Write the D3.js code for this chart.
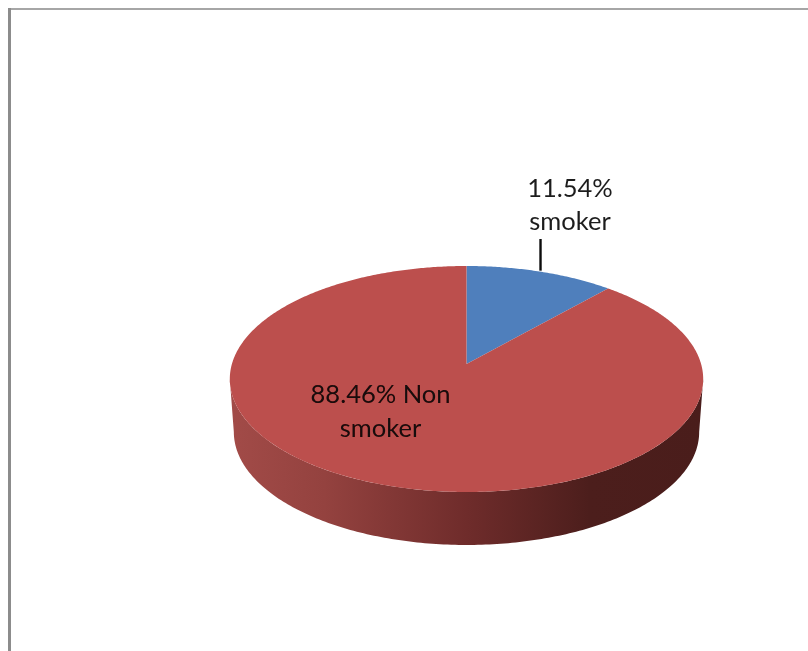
<!DOCTYPE html>
<html>
<head>
<meta charset="utf-8">
<script src="https://cdn.jsdelivr.net/npm/d3@7"></script>
<style>
html,body{margin:0;padding:0;background:#fff;overflow:hidden}
svg{display:block}
text{font-family:Lato,"Open Sans",sans-serif;font-size:25.5px;text-anchor:middle}
</style>
</head>
<body>
<svg id="c" width="808" height="651"></svg>
<script>
const categories = ["smoker", "Non smoker"];
const values = [11.54, 88.46];
const colors = ["#4f7fbc", "#bc4f4d"];
const wallGradientStops = [
  [0, "#a24b48"], [0.2, "#94423f"], [0.5, "#6f2c2b"], [0.76, "#4c1e1c"], [1, "#4a1d1b"]
];
const labelLines = [["11.54%", "smoker"], ["88.46% Non", "smoker"]];

const W = 808, H = 651;
const svg = d3.select("#c");

// frame
svg.append("rect").attr("x",0).attr("y",0).attr("width",W).attr("height",H).attr("fill","#fff");
svg.append("rect").attr("x",8).attr("y",8).attr("width",W-8).attr("height",2).attr("fill","#a6a6a6");
svg.append("rect").attr("x",8).attr("y",8).attr("width",3).attr("height",H-8).attr("fill","#8c8c8c");

// perspective projection of a unit disc onto the page
const cx = 466.5, apexY = 364, bx = 234.6, ay = 111, k = 0.1327, depth = 53, shrink = 0.983;
const project = (angle, r = 1, low = false) => {
  const u = r * Math.sin(angle), v = r * Math.cos(angle), d = 1 + k * v, s = low ? shrink : 1;
  return [cx + s * bx * u / d, apexY + (low ? depth : 0) - ay * v / d];
};
const line = d3.line();

const pie = d3.pie().sort(null).value(d => d);
const arcs = pie(values);

const defs = svg.append("defs");
const grad = defs.append("linearGradient").attr("id","wall")
  .attr("gradientUnits","userSpaceOnUse")
  .attr("x1",cx-237).attr("x2",cx+237).attr("y1",0).attr("y2",0);
grad.selectAll("stop").data(wallGradientStops).join("stop")
  .attr("offset",d=>d[0]).attr("stop-color",d=>d[1]);
defs.append("filter").attr("id","soft").append("feGaussianBlur").attr("stdDeviation",0.35);

// side wall, between the extreme left and right of the projected ellipse
const edge = Math.acos(-k);
const sideAngles = d3.range(edge, 2*Math.PI - edge + 1e-6, (2*Math.PI - 2*edge)/200);
const rimTop = sideAngles.map(a => project(a));
const rimLow = sideAngles.map(a => project(a,1,true)).reverse();
svg.append("path").attr("d", line(rimTop.concat(rimLow)) + "Z").attr("fill","url(#wall)");

// top face
const wedge = d => {
  const n = Math.max(2, Math.ceil((d.endAngle-d.startAngle)/0.01));
  const pts = d3.range(n+1).map(i => project(d.startAngle + (d.endAngle-d.startAngle)*i/n));
  return line([project(0,0)].concat(pts)) + "Z";
};
svg.selectAll("path.slice").data(arcs).join("path").attr("class","slice")
  .attr("d", wedge).attr("fill",(d,i)=>colors[i]);

// leader line for the small slice
const mid = (arcs[0].startAngle + arcs[0].endAngle)/2;
const tip = project(mid);
svg.append("line").attr("x1",tip[0]).attr("x2",tip[0]).attr("y1",tip[1]-1).attr("y2",239)
  .attr("stroke","#0c0c0c").attr("stroke-width",2.4);

// labels
const labelPos = [[570, 197, 33], [380.5, 403, 34]];
const g = svg.append("g").attr("filter","url(#soft)");
labelLines.forEach((lines,i)=>{
  const t = g.append("text").attr("fill", i===0 ? "#1f1f1f" : "#180808");
  lines.forEach((s,j)=>{
    t.append("tspan").attr("x",labelPos[i][0]).attr("y",labelPos[i][1]+j*labelPos[i][2]).text(s);
  });
});
</script>
</body>
</html>
